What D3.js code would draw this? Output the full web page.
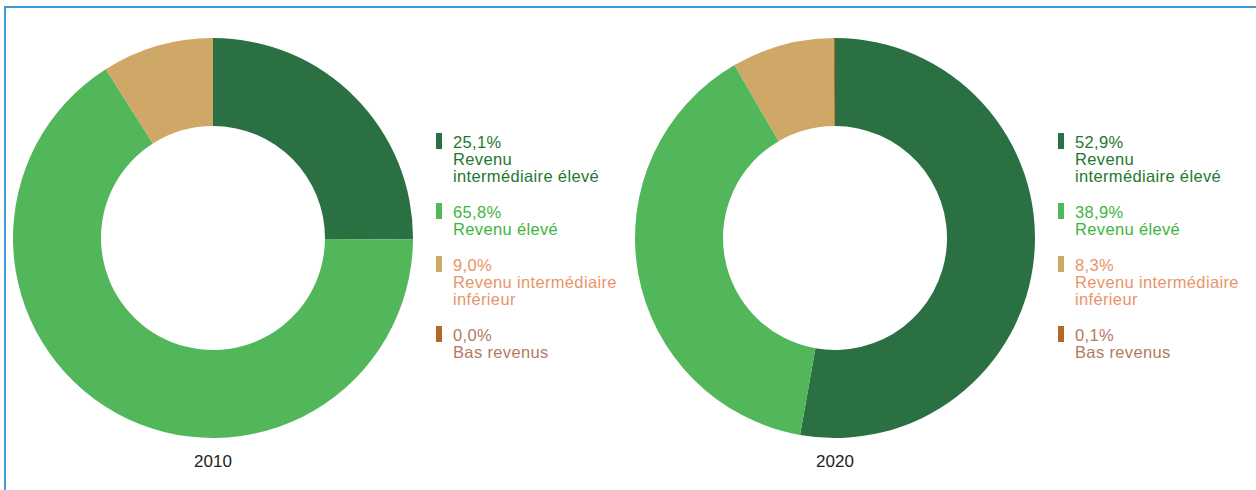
<!DOCTYPE html>
<html>
<head>
<meta charset="utf-8">
<script src="https://cdn.jsdelivr.net/npm/d3@7"></script>
<style>
  body { margin: 0; background: #fff; }
  svg { display: block; font-family: "Liberation Sans", Arial, Helvetica, sans-serif; }
</style>
</head>
<body>
<svg id="chart" width="1256" height="490"></svg>
<script>
// categories, in drawing order (clockwise from 12 o'clock)
const categories = ["Revenu intermédiaire élevé", "Revenu élevé", "Revenu intermédiaire inférieur", "Bas revenus"];
// how each legend label breaks into lines
const labelLines = [["Revenu", "intermédiaire élevé"], ["Revenu élevé"], ["Revenu intermédiaire", "inférieur"], ["Bas revenus"]];
const years = ["2010", "2020"];
const values2010 = [25.1, 65.8, 9.0, 0.0];
const values2020 = [52.9, 38.9, 8.3, 0.1];

const sliceColors = ["#2b7043", "#52b65b", "#cfa766", "#b06a25"];
const textColors = ["#23782f", "#3db53d", "#e8946a", "#b47a60"];

const outerR = 200, innerR = 112;
const lineH = 17, itemGap = 19;

const svg = d3.select('#chart');

// frame
svg.append('rect')
    .attr('x', 5).attr('y', 7)
    .attr('width', 1260).attr('height', 500)
    .attr('fill', 'none')
    .attr('stroke', '#3f9bd8')
    .attr('stroke-width', 2);

const color = d3.scaleOrdinal().domain(categories).range(sliceColors);
const tcolor = d3.scaleOrdinal().domain(categories).range(textColors);
const fmt = v => d3.format('.1f')(v).replace('.', ',') + '%';

const pie = d3.pie().sort(null).value(d => d.value);
const arc = d3.arc().innerRadius(innerR).outerRadius(outerR);

const centers = d3.scalePoint().domain(years).range([213, 835]);

function drawDonut(year, values) {
    let cx = centers(year), cy = 238;
    let data = categories.map((c, i) => ({cat: c, value: values[i], lines: labelLines[i]}));
    let g = svg.append('g');

    g.append('g')
        .attr('transform', `translate(${cx},${cy})`)
        .selectAll('path')
        .data(pie(data))
        .enter()
        .append('path')
        .attr('d', arc)
        .attr('fill', d => color(d.data.cat));

    g.append('text')
        .attr('x', cx)
        .attr('y', 467)
        .attr('text-anchor', 'middle')
        .attr('font-size', 17)
        .attr('fill', '#222')
        .text(year);

    // legend
    let lx = cx + 223;
    let y = 133;
    data.forEach(d => {
        let item = g.append('g').attr('transform', `translate(${lx},${y})`);
        item.append('rect')
            .attr('x', 0).attr('y', 0)
            .attr('width', 6).attr('height', 16)
            .attr('fill', color(d.cat));
        let t = item.append('text')
            .attr('font-size', 16.5)
            .attr('letter-spacing', 0.35)
            .attr('fill', tcolor(d.cat));
        [fmt(d.value)].concat(d.lines).forEach((s, k) => {
            t.append('tspan')
                .attr('x', 17)
                .attr('y', 15 + k * lineH)
                .text(s);
        });
        y += (d.lines.length + 1) * lineH + itemGap;
    });
}

drawDonut(years[0], values2010);
drawDonut(years[1], values2020);
</script>
</body>
</html>
